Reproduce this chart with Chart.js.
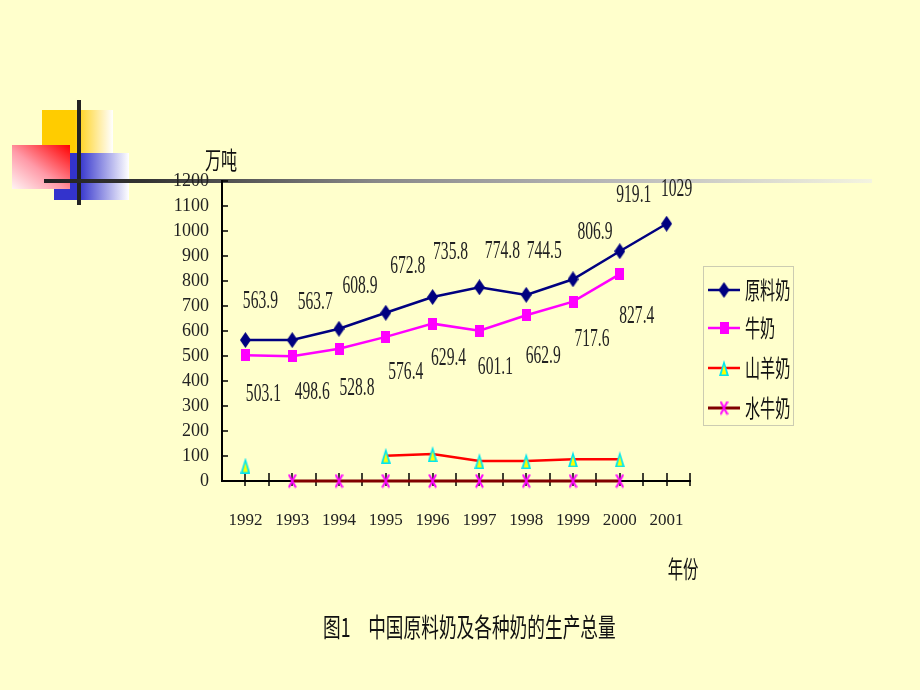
<!DOCTYPE html>
<html><head><meta charset="utf-8">
<script src="https://cdn.jsdelivr.net/npm/chart.js@4/dist/chart.umd.min.js"></script>
<style>
html,body{margin:0;padding:0;background:#FFFFCC;width:920px;height:690px;overflow:hidden}
#wrap{position:relative;width:920px;height:690px}
.deco{position:absolute}
#yel{left:42px;top:110px;width:71px;height:66px;background:linear-gradient(to right,#FFCC00 0%,#FFCC00 45%,#FFFFFF 100%)}
#blu{left:54px;top:153px;width:75px;height:47px;background:linear-gradient(to right,#3333CC 0%,#3333CC 33%,#FFFFFF 100%)}
#red{left:12px;top:145px;width:58px;height:44px;background:linear-gradient(to top right,#FFF4F4 0%,#FF9AA8 45%,#FF0000 100%)}
#vl{left:77px;top:100px;width:4px;height:105px;background:#222}
#hl{left:44px;top:179px;width:828px;height:4px;background:linear-gradient(to right,#222 0%,#333 12%,#888 40%,#bbb 70%,#f4f4e0 100%)}
canvas{position:absolute;left:0;top:0}
</style></head>
<body><div id="wrap">
<div class="deco" id="yel"></div>
<div class="deco" id="blu"></div>
<div class="deco" id="red"></div>
<div class="deco" id="vl"></div>
<div class="deco" id="hl"></div>
<canvas id="c" width="920" height="690"></canvas>
</div>
<script>
// ---- data ----
const years = ['1992','1993','1994','1995','1996','1997','1998','1999','2000','2001'];
const rawMilk = [563.9, 563.7, 608.9, 672.8, 735.8, 774.8, 744.5, 806.9, 919.1, 1029];
const cowMilk = [503.1, 498.6, 528.8, 576.4, 629.4, 601.1, 662.9, 717.6, 827.4, null];
const goatMilk = [62, null, null, 101, 108, 80, 80, 87, 87, null];
const buffaloMilk = [null, 0, 0, 0, 0, 0, 0, 0, 0, null];
const seriesNames = ['原料奶', '牛奶', '山羊奶', '水牛奶'];
const yMin = 0, yMax = 1200, yStep = 100;
const yUnit = '万吨';
const xUnit = '年份';
const caption = '图1　中国原料奶及各种奶的生产总量';

// ---- label placement (layout only) ----
const rawLabelOffset = [[15,-39],[23,-38],[21,-43],[22,-47],[18,-45],[23,-36],[18,-44],[22,-47],[14,-56],[10,-35]];
const cowLabelOffset = [[18,39],[20,36],[18,39],[20,35],[16,35],[16,36],[17,41],[19,38],[17,42]];

// ---- marker images ----
function mk(w,h,draw){const c=document.createElement('canvas');c.width=w;c.height=h;draw(c.getContext('2d'),w,h);return c;}
const diamond = mk(11,16,(g,w,h)=>{g.fillStyle='#000080';g.beginPath();g.moveTo(w/2,0);g.lineTo(w,h/2);g.lineTo(w/2,h);g.lineTo(0,h/2);g.closePath();g.fill();});
const square = mk(9,12,(g,w,h)=>{g.fillStyle='#FF00FF';g.fillRect(0,0,w,h);});
const tri = mk(10,16,(g,w,h)=>{g.fillStyle='#00E5F0';g.beginPath();g.moveTo(w/2,0);g.lineTo(w,h);g.lineTo(0,h);g.closePath();g.fill();g.fillStyle='#FFFF00';g.beginPath();g.moveTo(w/2,5);g.lineTo(w-2.5,h-1.5);g.lineTo(2.5,h-1.5);g.closePath();g.fill();});
const xmark = mk(9,15,(g,w,h)=>{g.strokeStyle='#FF00FF';g.lineWidth=2;g.beginPath();g.moveTo(1,1);g.lineTo(w-1,h-1);g.moveTo(w-1,1);g.lineTo(1,h-1);g.stroke();});

function ctext(ctx,str,x,y,font,sx,color,align){
  ctx.save();ctx.font=font;ctx.fillStyle=color;ctx.textAlign=align||'center';ctx.textBaseline='middle';
  ctx.translate(x,y);ctx.scale(sx,1);ctx.fillText(str,0,0);ctx.restore();
}

const extras = {
  id:'extras',
  beforeDatasetsDraw(chart){
    const ctx=chart.ctx, xs=chart.scales.x, ys=chart.scales.y, ca=chart.chartArea;
    const y0=ys.getPixelForValue(0);
    ctx.save();ctx.strokeStyle='#000';ctx.lineWidth=1.5;
    for(let k=1;k<=2*years.length;k++){
      const px=Math.round(xs.getPixelForValue(k/2-0.5));
      ctx.beginPath();ctx.moveTo(px,y0-8);ctx.lineTo(px,y0+5);ctx.stroke();
    }
    for(let v=yMin+yStep;v<=yMax;v+=yStep){
      const py=Math.round(ys.getPixelForValue(v));
      ctx.beginPath();ctx.moveTo(ca.left,py);ctx.lineTo(ca.left+6,py);ctx.stroke();
    }
    ctx.restore();
  },
  afterDraw(chart){
    const ctx=chart.ctx;
    const lf='26px "Liberation Serif"', lc='#222';
    const m0=chart.getDatasetMeta(0), m1=chart.getDatasetMeta(1);
    rawMilk.forEach((v,i)=>{ if(v==null)return; const p=m0.data[i];
      ctext(ctx,String(v),p.x+rawLabelOffset[i][0],p.y+rawLabelOffset[i][1],lf,0.6,lc);});
    cowMilk.forEach((v,i)=>{ if(v==null)return; const p=m1.data[i];
      ctext(ctx,String(v),p.x+cowLabelOffset[i][0],p.y+cowLabelOffset[i][1],lf,0.6,lc);});
    // legend
    const bx=703,by=266,bw=90,bh=159;
    ctx.save();ctx.strokeStyle='#999';ctx.lineWidth=1;ctx.setLineDash([1,1]);
    ctx.strokeRect(bx+0.5,by+0.5,bw,bh);ctx.restore();
    const rows=[290,328,368,408];
    chart.data.datasets.forEach((ds,i)=>{
      const y=rows[i];
      ctx.save();ctx.strokeStyle=ds.borderColor;ctx.lineWidth=ds.borderWidth;
      ctx.beginPath();ctx.moveTo(708,y);ctx.lineTo(740,y);ctx.stroke();
      const img=ds.pointStyle;ctx.drawImage(img,724-img.width/2,y-img.height/2);ctx.restore();
      ctext(ctx,ds.label,745,y,'24px "Noto Sans CJK SC"',0.63,'#111','left');
    });
    ctext(ctx,yUnit,221,160,'24px "Noto Sans CJK SC"',0.67,'#111');
    ctext(ctx,xUnit,683,569,'24px "Noto Sans CJK SC"',0.64,'#111');
    ctext(ctx,caption,323,627,'26px "Noto Sans CJK SC"',0.68,'#111','left');
  }
};

new Chart(document.getElementById('c'),{
  type:'line',
  data:{labels:years,datasets:[
    {label:seriesNames[0],data:rawMilk,borderColor:'#000080',backgroundColor:'#000080',borderWidth:2.5,pointStyle:diamond,pointRadius:6,tension:0,clip:false},
    {label:seriesNames[1],data:cowMilk,borderColor:'#FF00FF',backgroundColor:'#FF00FF',borderWidth:2.5,pointStyle:square,pointRadius:6,tension:0,clip:false},
    {label:seriesNames[2],data:goatMilk,borderColor:'#FF0000',backgroundColor:'#FFFF00',borderWidth:2.5,pointStyle:tri,pointRadius:6,tension:0,clip:false,spanGaps:false},
    {label:seriesNames[3],data:buffaloMilk,borderColor:'#800000',backgroundColor:'#FF00FF',borderWidth:3,pointStyle:xmark,pointRadius:6,tension:0,clip:false,spanGaps:false}
  ]},
  options:{
    responsive:false,devicePixelRatio:1,animation:false,
    layout:{padding:{left:0,right:230,top:181,bottom:149}},
    plugins:{legend:{display:false},tooltip:{enabled:false}},
    scales:{
      x:{type:'category',offset:true,
        grid:{display:false,drawTicks:false},
        border:{display:true,color:'#000',width:2},
        ticks:{font:{family:'"Liberation Serif"',size:17},color:'#222',padding:29,maxRotation:0,autoSkip:false},
        afterFit(s){s.height=60;}},
      y:{min:yMin,max:yMax,
        grid:{display:false,drawTicks:false},
        border:{display:true,color:'#000',width:2},
        ticks:{stepSize:yStep,autoSkip:false,font:{family:'"Liberation Serif"',size:18},color:'#222',padding:13,
          callback:(v)=>String(v)},
        afterFit(s){s.width=222;}}
    }
  },
  plugins:[extras]
});
</script>
</body></html>
